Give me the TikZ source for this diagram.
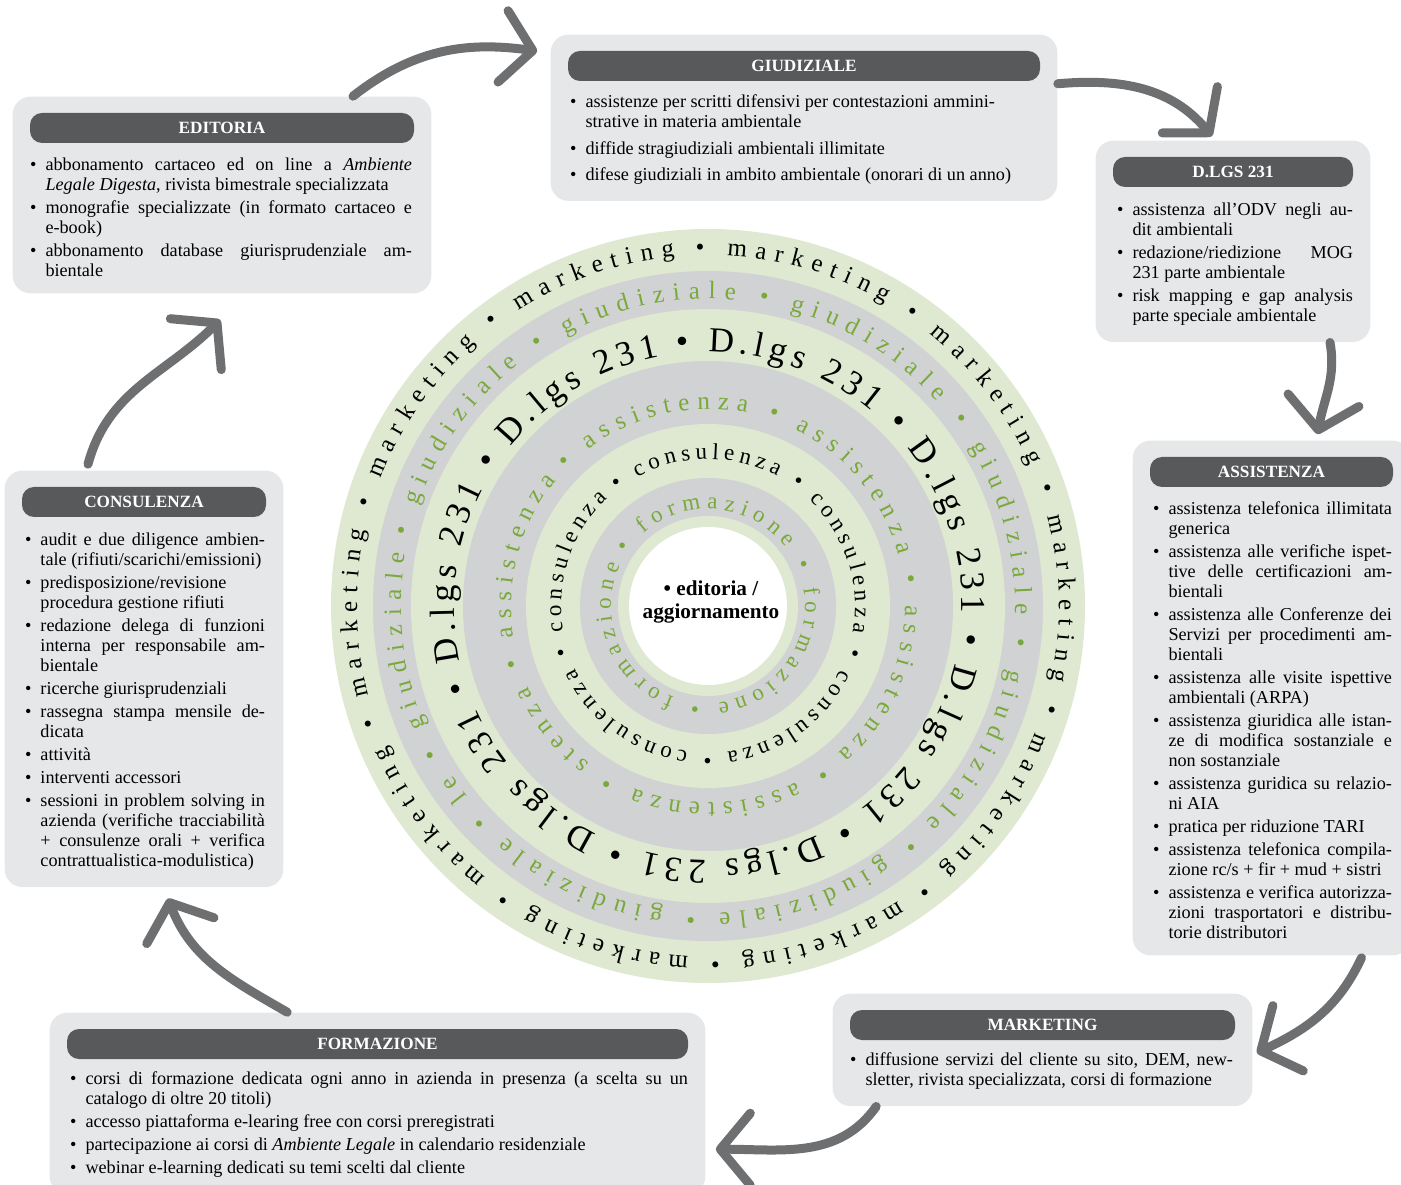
\documentclass[tikz,border=0pt]{standalone}
\usepackage{fontspec}
\setmainfont{Liberation Serif}
\usepackage{enumitem}
\usetikzlibrary{arrows.meta,positioning,fit,calc,backgrounds,decorations.text}
\definecolor{panelgrey}{HTML}{E6E7E8}
\definecolor{bargrey}{HTML}{58595B}
\definecolor{palegreen}{HTML}{DFE8D0}
\definecolor{bandgrey}{HTML}{D1D2D4}
\definecolor{leaf}{HTML}{7AA93B}
\definecolor{brush}{HTML}{6E6F71}
\setlist[itemize]{label=\textbullet, leftmargin=7.75pt, labelsep=4.5pt, itemsep=1.5pt, topsep=0pt, parsep=0pt, partopsep=0pt}
\hyphenpenalty=10000
\exhyphenpenalty=10000

\begin{document}
\begin{tikzpicture}[x=0.5pt, y=0.5pt,
  head/.style={fill=bargrey, text=white, rounded corners=6pt, minimum height=15pt, inner sep=0pt, font=\fontsize{8.6}{10}\selectfont\bfseries},
  list/.style={inner sep=0pt, align=justify, font=\fontsize{9.1}{10}\selectfont},
  panel/.style={fill=panelgrey, rounded corners=9pt, inner xsep=8.5pt, inner ysep=8pt},
  flow/.style={draw=brush, line width=4.5pt, line cap=round, -{Straight Barb[length=15pt,width=36pt,round]}},
  ring/.style={decorate, decoration={text along path, text align={fit to path}, text={#1}}}]
\useasboundingbox (0,0) rectangle (1401,1184);
\coordinate (c) at (708,578);

% rings
\fill[palegreen] (c) circle[radius=377];
\fill[bandgrey] (c) circle[radius=335];
\fill[palegreen] (c) circle[radius=297];
\fill[bandgrey] (c) circle[radius=245];
\fill[palegreen] (c) circle[radius=182];
\fill[bandgrey] (c) circle[radius=128];
\fill[palegreen] (c) circle[radius=90];
\fill[white] (c) circle[radius=79];

\path[ring={|\fontsize{12.5}{14}\selectfont|• marketing • marketing • marketing • marketing • marketing • marketing • marketing • marketing • marketing • marketing}]
  ($(c)+(92:351)$) arc[start angle=92, end angle=-264.5, radius=351];
\path[ring={|\color{leaf}\fontsize{12.5}{14}\selectfont|• giudiziale • giudiziale • giudiziale • giudiziale • giudiziale • giudiziale • giudiziale • le • giudiziale}]
  ($(c)+(167:307)$) arc[start angle=167, end angle=-189.7, radius=307];
\path[ring={|\fontsize{17.5}{20}\selectfont|• D.lgs 231 • D.lgs 231 • D.lgs 231 • D.lgs 231 • D.lgs 231 • D.lgs 231 • D.lgs 231}]
  ($(c)+(97:254)$) arc[start angle=97, end angle=-259, radius=254];
\path[ring={|\color{leaf}\fontsize{12.5}{14}\selectfont|• assistenza • assistenza • assistenza • assistenza • stenza • assistenza}]
  ($(c)+(136:197)$) arc[start angle=136, end angle=-219.5, radius=197];
\path[ring={|\fontsize{11.5}{13}\selectfont|• consulenza • consulenza • consulenza • consulenza • consulenza}]
  ($(c)+(128:147)$) arc[start angle=128, end angle=-227, radius=147];
\path[ring={|\color{leaf}\fontsize{11.5}{13}\selectfont|• formazione • formazione • formazione}]
  ($(c)+(147:97)$) arc[start angle=147, end angle=-205, radius=97];

\node[font=\fontsize{10.6}{11.5}\selectfont\bfseries, align=center] (hub) at (711,582) {\textbullet\ editoria /\\aggiornamento};

% panels
\node[head, minimum width=192pt] (editoriahead) at (222,1056) {EDITORIA};
\node[list, text width=191pt, below right=3.5pt and 0pt of editoriahead.south west] (editorialist) {%
\begin{itemize}
\item abbonamento cartaceo ed on line a \textit{Ambiente}\linebreak \textit{Legale Digesta}, rivista bimestrale specializzata
\item monografie specializzate (in formato cartaceo e\linebreak e-book)
\item abbonamento database giurisprudenziale am-\linebreak bientale
\end{itemize}};

\node[head, minimum width=236pt] (giudizialehead) at (804,1118) {GIUDIZIALE};
\node[list, text width=234pt, below right=3pt and 1pt of giudizialehead.south west] (giudizialelist) {%
\begin{itemize}[itemsep=3.2pt]
\item assistenze per scritti difensivi per contestazioni ammini-\newline strative in materia ambientale
\item diffide stragiudiziali ambientali illimitate
\item difese giudiziali in ambito ambientale (onorari di un anno)
\end{itemize}};

\node[head, minimum width=120pt] (dlgshead) at (1233,1012) {D.LGS 231};
\node[list, text width=118pt, below right=4pt and 2pt of dlgshead.south west] (dlgslist) {%
\begin{itemize}
\item assistenza all’ODV negli au-\linebreak dit ambientali
\item redazione/riedizione MOG\linebreak 231 parte ambientale
\item risk mapping e gap analysis\linebreak parte speciale ambientale
\end{itemize}};

\node[head, minimum width=121.5pt] (assistenzahead) at (1271.5,712) {ASSISTENZA};
\node[list, text width=119.5pt, below right=3.5pt and 1.5pt of assistenzahead.south west] (assistenzalist) {%
\begin{itemize}
\item assistenza telefonica illimitata\linebreak generica
\item assistenza alle verifiche ispet-\linebreak tive delle certificazioni am-\linebreak bientali
\item assistenza alle Conferenze dei\linebreak Servizi per procedimenti am-\linebreak bientali
\item assistenza alle visite ispettive\linebreak ambientali (ARPA)
\item assistenza giuridica alle istan-\linebreak ze di modifica sostanziale e\linebreak non sostanziale
\item assistenza guridica su relazio-\linebreak ni AIA
\item pratica per riduzione TARI
\item assistenza telefonica compila-\linebreak zione rc/s + fir + mud + sistri
\item assistenza e verifica autorizza-\linebreak zioni trasportatori e distribu-\linebreak torie distributori
\end{itemize}};

\node[head, minimum width=192.5pt] (marketinghead) at (1042.5,159) {MARKETING};
\node[list, text width=191.5pt, below right=2.5pt and 0pt of marketinghead.south west] (marketinglist) {%
\begin{itemize}
\item diffusione servizi del cliente su sito, DEM, new-\linebreak sletter, rivista specializzata, corsi di formazione
\end{itemize}};

\node[head, minimum width=310.5pt] (formazionehead) at (377.5,140) {FORMAZIONE};
\node[list, text width=309pt, below right=2.5pt and 1.5pt of formazionehead.south west] (formazionelist) {%
\begin{itemize}
\item corsi di formazione dedicata ogni anno in azienda in presenza (a scelta su un\linebreak catalogo di oltre 20 titoli)
\item accesso piattaforma e-learing free con corsi preregistrati
\item partecipazione ai corsi di \textit{Ambiente Legale} in calendario residenziale
\item webinar e-learning dedicati su temi scelti dal cliente
\end{itemize}};

\node[head, minimum width=122pt] (consulenzahead) at (144,682) {CONSULENZA};
\node[list, text width=120pt, below right=4pt and 1.5pt of consulenzahead.south west] (consulenzalist) {%
\begin{itemize}
\item audit e due diligence ambien-\linebreak tale (rifiuti/scarichi/emissioni)
\item predisposizione/revisione\linebreak procedura gestione rifiuti
\item redazione delega di funzioni\linebreak interna per responsabile am-\linebreak bientale
\item ricerche giurisprudenziali
\item rassegna stampa mensile de-\linebreak dicata
\item attività
\item interventi accessori
\item sessioni in problem solving in\linebreak azienda (verifiche tracciabilità\linebreak + consulenze orali + verifica\linebreak contrattualistica-modulistica)
\end{itemize}};

\begin{scope}[on background layer]
\node[panel, fit=(editoriahead)(editorialist)] (editoria) {};
\node[panel, fit=(giudizialehead)(giudizialelist)] (giudiziale) {};
\node[panel, fit=(dlgshead)(dlgslist)] (dlgs) {};
\node[panel, fit=(assistenzahead)(assistenzalist)] (assistenza) {};
\node[panel, fit=(marketinghead)(marketinglist)] (marketing) {};
\node[panel, fit=(formazionehead)(formazionelist)] (formazione) {};
\node[panel, fit=(consulenzahead)(consulenzalist)] (consulenza) {};
\end{scope}

% cycle arrows
\draw[flow] ($(editoria.north)+(131,0)$) to[out=38,in=172] ($(giudiziale.north west)+(-13,-17)$);
\draw[flow] ($(giudiziale.east)+(0,34)$) to[out=5,in=130] ($(dlgs.north)+(-21,4)$);
\draw[flow] ($(dlgs.south)+(97,0)$) to[out=-80,in=80] ($(assistenza.north)+(46,6)$);
\draw[flow] ($(assistenza.south)+(90,-2)$) to[out=-115,in=25] ($(marketing.east)+(4,-3)$);
\draw[flow] ($(marketing.south west)+(44,0)$) to[out=-125,in=0] ($(formazione.north east)+(10,-137)$);
\draw[flow] ($(formazione.north west)+(238,0)$) to[out=150,in=-69] ($(consulenza.south)+(24,-11)$);
\draw[flow] ($(consulenza.north)+(-56,6)$) to[out=75,in=225] ($(editoria.south west)+(208,-26)$);
\end{tikzpicture}
\end{document}
